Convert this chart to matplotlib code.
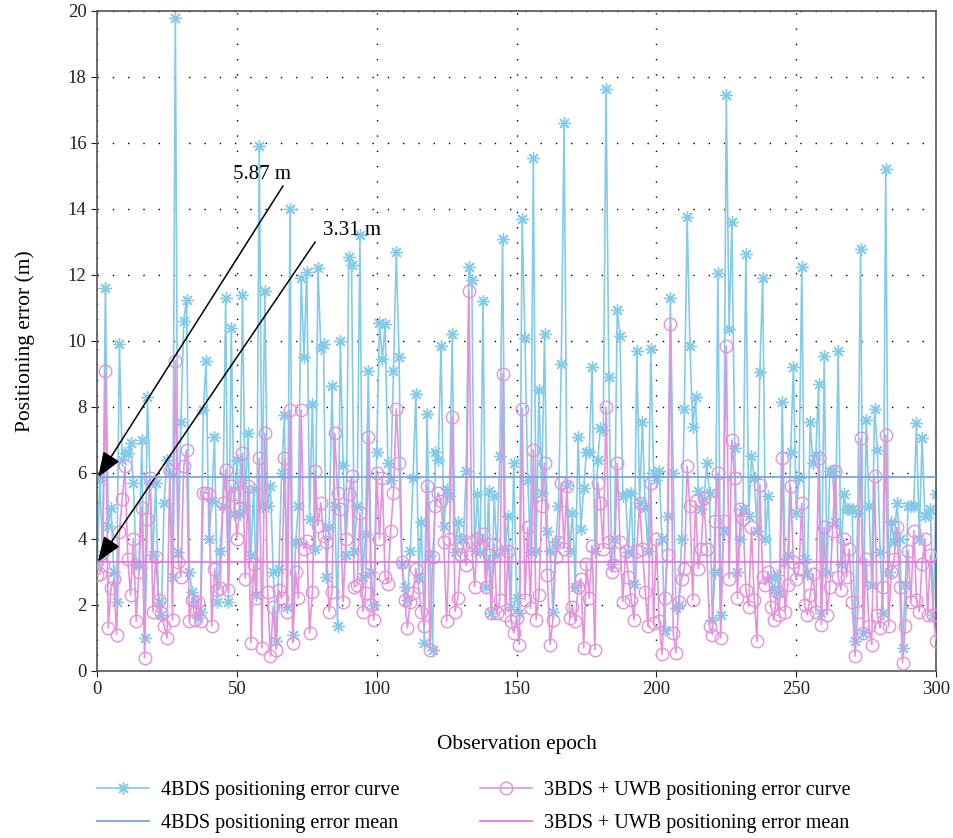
import matplotlib
matplotlib.use("Agg")
import matplotlib.pyplot as plt
import numpy as np

# ---------------- data ----------------
epochs = list(range(0, 301))

bds4_error = [
    3.25, 5.8, 3.5, 11.6, 4.4, 4.95, 3.0, 2.1, 9.9, 6.4,
    6.6, 6.6, 6.9, 5.7, 3.25, 3.2, 7.0, 1.0, 8.3, 5.7,
    3.5, 5.7, 2.1, 1.7, 5.1, 6.4, 6.0, 2.85, 19.8, 3.6,
    7.55, 10.6, 11.25, 3.0, 2.4, 2.1, 1.6, 1.8, 7.9, 9.4,
    4.0, 5.15, 7.1, 2.1, 3.65, 5.0, 11.3, 2.1, 10.4, 4.75,
    6.4, 4.75, 11.4, 5.0, 7.2, 3.5, 5.5, 2.3, 15.9, 5.0,
    11.5, 5.0, 5.6, 3.0, 0.9, 3.1, 6.0, 7.75, 1.95, 14.0,
    1.1, 3.9, 5.0, 11.9, 9.5, 12.1, 4.6, 8.1, 3.7, 12.2,
    9.8, 9.9, 2.85, 4.35, 8.65, 5.0, 1.35, 10.0, 6.25, 3.5,
    12.55, 12.3, 3.65, 5.0, 13.2, 2.85, 4.15, 9.1, 3.0, 2.0,
    6.65, 10.55, 9.45, 10.5, 6.3, 5.8, 9.1, 12.7, 9.5, 3.25,
    2.55, 2.15, 3.65, 5.85, 8.4, 2.85, 4.5, 0.85, 7.8, 3.5,
    0.65, 6.65, 6.4, 9.85, 4.4, 5.5, 5.3, 10.2, 3.6, 4.5,
    4.0, 4.0, 6.05, 12.25, 11.85, 3.65, 5.35, 3.6, 11.2, 2.55,
    5.45, 1.75, 5.3, 3.5, 6.5, 13.1, 3.7, 4.7, 1.95, 6.3,
    2.2, 1.75, 13.7, 10.1, 5.8, 3.6, 15.55, 3.65, 8.5, 5.4,
    10.2, 4.25, 3.65, 1.8, 3.9, 5.0, 9.3, 16.6, 5.65, 3.65,
    4.8, 2.55, 7.1, 4.3, 5.55, 6.65, 6.65, 9.2, 3.65, 6.4,
    7.35, 7.3, 17.65, 8.9, 3.25, 4.0, 10.95, 10.15, 5.3, 5.35,
    3.6, 5.4, 2.65, 9.7, 5.1, 7.55, 4.95, 3.65, 9.75, 6.0,
    5.8, 6.05, 4.0, 1.25, 4.7, 11.3, 6.0, 1.9, 2.0, 4.0,
    7.95, 13.75, 9.85, 7.4, 8.3, 5.45, 4.9, 5.2, 6.3, 5.4,
    1.55, 3.0, 12.05, 1.7, 4.25, 17.45, 10.35, 13.6, 6.75, 3.0,
    4.0, 4.9, 12.65, 4.7, 6.5, 5.85, 4.25, 9.05, 11.9, 4.0,
    5.3, 2.85, 2.45, 2.9, 2.35, 8.15, 3.3, 3.5, 6.65, 9.2,
    4.8, 5.85, 12.25, 3.4, 2.95, 7.55, 6.3, 6.55, 8.7, 1.75,
    9.55, 3.0, 6.05, 6.05, 4.5, 9.7, 3.25, 5.35, 4.9, 4.9,
    4.9, 0.9, 4.8, 12.8, 1.15, 7.6, 5.0, 2.6, 7.95, 6.7,
    3.6, 1.75, 15.2, 3.0, 4.5, 3.9, 5.1, 4.0, 0.7, 2.6,
    5.0, 5.0, 5.0, 7.5, 4.0, 7.05, 4.7, 4.75, 4.9, 1.7,
    5.35,
]

bds3_uwb_error = [
    2.9, 2.95, 3.2, 9.1, 1.3, 2.5, 2.8, 1.1, 4.2, 5.2,
    6.2, 3.4, 2.3, 4.0, 1.5, 3.0, 4.95, 0.4, 4.6, 5.85,
    1.8, 3.45, 2.15, 1.75, 1.35, 1.0, 6.05, 1.55, 9.4, 3.3,
    2.85, 6.2, 6.7, 1.5, 2.15, 1.55, 2.1, 1.5, 5.4, 5.4,
    5.35, 1.35, 3.1, 2.45, 2.5, 5.1, 6.1, 2.45, 5.6, 5.35,
    4.0, 4.95, 6.6, 2.8, 5.6, 0.85, 3.25, 2.2, 6.45, 0.7,
    7.2, 2.4, 0.45, 1.95, 0.65, 2.45, 2.2, 6.45, 1.8, 7.9,
    0.85, 3.0, 2.2, 7.9, 3.7, 3.95, 1.15, 2.4, 6.05, 4.4,
    5.1, 4.1, 3.9, 1.8, 2.4, 7.2, 5.4, 4.9, 2.1, 4.0,
    5.35, 5.9, 2.55, 2.6, 4.8, 1.8, 2.35, 7.1, 2.0, 1.55,
    6.0, 4.0, 5.85, 2.85, 2.65, 4.25, 5.4, 7.95, 6.3, 3.3,
    2.15, 1.3, 2.1, 2.35, 3.1, 2.55, 1.8, 1.35, 5.6, 0.65,
    3.45, 5.0, 5.4, 5.15, 3.9, 1.5, 4.0, 7.7, 1.8, 2.2,
    3.5, 3.8, 3.2, 11.5, 3.9, 2.55, 4.0, 3.8, 4.15, 2.55,
    3.5, 1.75, 3.85, 1.75, 2.15, 9.0, 1.7, 3.65, 1.5, 1.15,
    1.6, 0.8, 7.95, 2.15, 4.35, 1.9, 6.7, 1.55, 2.3, 5.0,
    6.3, 2.9, 0.8, 1.55, 3.45, 3.9, 5.7, 3.7, 5.6, 1.6,
    1.95, 1.5, 2.55, 2.8, 0.7, 3.25, 2.2, 3.8, 0.65, 5.7,
    5.1, 3.7, 8.0, 3.9, 3.0, 3.2, 6.3, 3.9, 2.1, 3.65,
    2.85, 2.15, 1.55, 3.65, 5.1, 3.7, 2.4, 1.35, 5.7, 1.45,
    4.0, 1.5, 0.5, 2.2, 3.5, 10.5, 1.15, 0.55, 2.1, 2.8,
    3.1, 6.2, 5.0, 2.15, 5.15, 3.1, 3.7, 5.25, 3.7, 1.35,
    1.1, 4.55, 6.0, 1.0, 4.55, 9.85, 2.8, 7.0, 5.85, 2.2,
    4.9, 4.6, 2.45, 1.95, 4.35, 2.15, 0.9, 5.65, 2.85, 2.6,
    3.0, 1.95, 1.55, 2.4, 1.7, 6.45, 1.8, 2.6, 5.6, 3.3,
    2.8, 3.1, 5.1, 2.0, 1.7, 2.3, 2.95, 1.8, 6.45, 1.4,
    4.35, 1.7, 2.55, 4.25, 6.05, 2.85, 2.45, 4.0, 2.85, 3.7,
    2.1, 0.45, 1.8, 7.05, 1.15, 3.4, 1.35, 0.8, 5.9, 1.7,
    1.3, 2.55, 7.15, 1.35, 3.0, 3.4, 4.35, 2.55, 0.25, 1.35,
    3.65, 2.1, 4.25, 2.15, 1.8, 3.25, 4.0, 1.7, 3.5, 1.7,
    0.9,
]

bds4_mean = 5.87
bds3_uwb_mean = 3.31

series_labels = [
    "4BDS positioning error curve",
    "4BDS positioning error mean",
    "3BDS + UWB positioning error curve",
    "3BDS + UWB positioning error mean",
]
mean_labels = ["5.87 m", "3.31 m"]

# ---------------- style ----------------
plt.rcParams["font.family"] = ["Liberation Serif", "DejaVu Serif"]
plt.rcParams["font.size"] = 13

blue = "#84CBE8"
blue_mean = "#7AA6DA"
pink = "#E492DC"
pink_mean = "#E26FDD"

fig = plt.figure(figsize=(9.54, 8.38), dpi=100)
ax = fig.add_axes([0.1017, 0.1993, 0.8795, 0.7876])

l1, = ax.plot(epochs, bds4_error, color=blue, lw=1.2, marker=(8, 2, 0),
              markersize=9, markeredgewidth=1.0, label=series_labels[0], zorder=2)
l3, = ax.plot(epochs, bds3_uwb_error, color=pink, lw=1.2, marker="o",
              markersize=9, markerfacecolor="none", markeredgewidth=1.0,
              label=series_labels[2], zorder=3)
l2 = ax.axhline(bds4_mean, color=blue_mean, lw=1.3, label=series_labels[1], zorder=4)
l4 = ax.axhline(bds3_uwb_mean, color=pink_mean, lw=1.2, label=series_labels[3], zorder=4)

ax.set_xlim(0, 300)
ax.set_ylim(0, 20)
ax.set_xticks(np.arange(0, 301, 50))
ax.set_yticks(np.arange(0, 21, 2))
ax.grid(True, color="black", linestyle=(0, (1, 10)), linewidth=1.0)
for s in ax.spines.values():
    s.set_color("#555555")
    s.set_linewidth(1.2)
ax.tick_params(colors="#222222", labelsize=13.5, length=4)

ax.set_xlabel("Observation epoch", fontsize=15.3, labelpad=26)
ax.set_ylabel("Positioning error (m)", fontsize=15.5, labelpad=24)

# annotations
ax.annotate("", xy=(0.4, bds4_mean), xytext=(66.5, 14.7),
            arrowprops=dict(arrowstyle="-|>,head_length=1.2,head_width=0.45",
                            color="black", lw=1.1, shrinkA=0, shrinkB=0))
ax.text(48.6, 15.05, mean_labels[0], fontsize=15, va="center", ha="left")
ax.annotate("", xy=(0.3, bds3_uwb_mean), xytext=(78.0, 13.0),
            arrowprops=dict(arrowstyle="-|>,head_length=1.2,head_width=0.45",
                            color="black", lw=1.1, shrinkA=0, shrinkB=0))
ax.text(80.8, 13.35, mean_labels[1], fontsize=15, va="center", ha="left")

leg_kw = dict(frameon=False, loc="upper left", fontsize=14.5,
              handlelength=2.6, handletextpad=0.6, labelspacing=0.68,
              borderaxespad=0, borderpad=0)
leg1 = fig.legend([l1, l2], [series_labels[0], series_labels[1]],
                  bbox_to_anchor=(97 / 954, 1 - 781 / 838), **leg_kw)
leg2 = fig.legend([l3, l4], [series_labels[2], series_labels[3]],
                  bbox_to_anchor=(480 / 954, 1 - 781 / 838), **leg_kw)

fig.savefig("out.png", dpi=100)
